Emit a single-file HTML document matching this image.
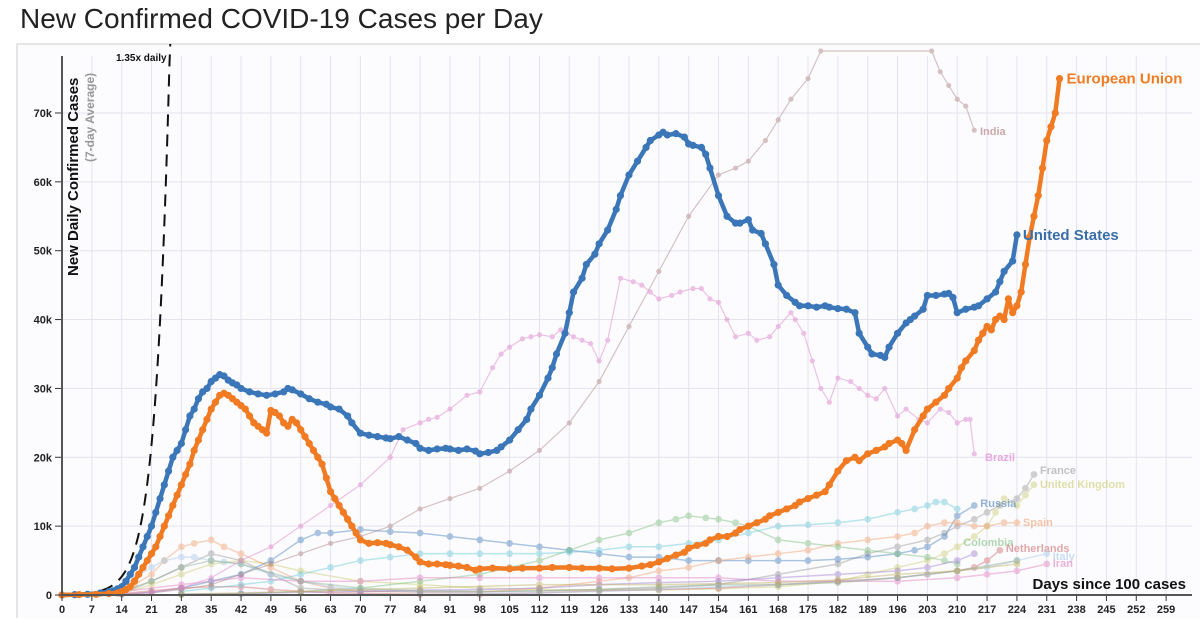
<!DOCTYPE html>
<html><head><meta charset="utf-8"><style>
body{margin:0;background:#fff;width:1200px;height:618px;overflow:hidden;font-family:"Liberation Sans",sans-serif}
svg text{font-family:"Liberation Sans",sans-serif}
</style></head><body>
<svg id="chart" width="1200" height="618">
<text x="20" y="28" font-size="28" fill="#222">New Confirmed COVID-19 Cases per Day</text>
<rect x="17" y="44" width="1190" height="580" fill="#fcfcfe" stroke="#ccc"/>
<g id="grid"></g><g id="faint"></g><g id="main"></g><g id="axes"></g>
</svg>
<script>
const xDays=[0,7,14,21,28,35,42,49,56,63,70,77,84,91,98,105,112,119,126,133,140,147,154,161,168,175,182,189,196,203,210,217,224,231,238,245,252,259];
const yTicks=[0,10,20,30,40,50,60,70];
const usDays=[0,3,6,9,11,12,13,14,15,16,
17,18,19,20,21,22,23,24,25,26,
27,28,29,30,31,32,33,34,35,36,
37,38,39,40,41,42,44,46,48,50,
52,53,54,56,58,60,62,63,65,67,
68,70,72,74,76,77,79,81,83,84,
86,88,90,91,93,95,97,98,100,102,
103,105,107,109,110,112,114,115,116,118,
119,120,122,123,125,126,128,130,131,133,
135,137,138,140,141,142,
144,146,147,148,150,151,152,154,156,158,
159,161,162,164,165,167,168,170,172,173,
175,177,179,180,182,184,186,187,189,190,
192,193,194,196,198,199,200,202,203,205,
207,208,209,210,212,214,215,217,219,220,
221,223,224];
const usVals=[0,0.05,0.1,0.3,0.5,0.6,0.9,1.2,2,3,
4,5.5,7,8.5,10,12,14,16,18,20,
21,22,24,26,27,28.5,29.5,30,31,31.5,
32,31.8,31.2,30.8,30.5,30,29.5,29.2,29,29.2,
29.5,30,29.8,29.2,28.5,28,27.7,27.3,27,26,
25,23.5,23.2,23,22.8,22.7,23,22.5,22,21.3,
21,21.2,21.3,21.2,21,21.2,20.9,20.5,20.7,21,
21.5,22.5,24,25.5,27,29,31.5,33,35,38,
41,44,46,48,49.5,51,53,56,58,61,
63,65,66,66.8,67.2,66.8,
67,66.5,65.5,65.3,65,64,62,58,55,54,
54,54.5,53,52.5,51,48,45,43.5,42.5,42,
42,41.8,42,41.8,41.6,41.5,41,38,36,35,
34.8,34.5,36,38,39.5,40,40.5,41.5,43.5,43.5,
43.7,43.8,43.2,41,41.5,41.8,42,43,44,45.5,
47,48.5,52.3];
const euDays=[0,4,8,11,13,14,15,16,17,18,
19,20,21,22,23,24,25,26,27,28,
29,30,31,32,33,34,35,36,37,38,
39,40,41,42,43,44,45,46,47,48,
49,50,51,52,53,54,55,56,57,58,
59,60,61,62,63,64,65,66,67,68,
69,70,72,74,76,77,79,81,83,84,
86,88,90,91,93,95,97,98,101,105,
108,112,115,119,122,126,129,133,136,138,
140,142,144,146,147,149,151,152,154,156,
158,159,161,163,165,166,168,170,172,173,
175,177,179,180,182,184,186,187,189,191,
193,194,196,197,198,200,202,203,205,207,
208,210,211,212,214,215,216,217,218,219,
220,221,222,223,224,225,226,227,228,229,
230,231,232,233,234];
const euVals=[0,0.05,0.1,0.2,0.3,0.5,0.8,1.2,2,3,
4,5,6,7,8.5,10,11.5,13,14.5,16,
17.5,19,21,22.5,24,25.5,27,28,29,29.3,
29,28.5,28,27.5,27,26,25,24.5,24,23.5,
26.8,26.5,26,25,24.5,25.5,25,24,23,22,
21,20,19,17,15,14,13,12,11,10,
9,8,7.5,7.6,7.5,7.3,7,6.5,5.5,4.8,
4.5,4.5,4.4,4.3,4.2,4,3.6,3.8,3.9,3.8,
3.9,3.9,4,4,3.9,3.9,3.8,3.9,4.2,4.4,
4.8,5.3,5.8,6.2,6.8,7.2,7.5,8,8.5,8.5,
9,9.5,10,10.5,11,11.5,12,12.5,13,13.5,
14,14.5,15,16,18,19.5,20,19.5,20.5,21,
21.5,22,22.5,22,21,24,26,27,28,29,
30,31.5,33,34,35.5,37,38,39,38.5,40,
40.5,40,43,41,42,44,48,52,55,58,
62,66,68,70,75];
const indiaDays=[14,21,28,35,42,49,56,63,70,77,84,91,98,105,112,119,126,133,140,147,154,158,161,165,168,171,175,178,204,206,208,210,212,214];
const indiaVals=[0.1,0.3,0.8,1.5,3,4.5,6,7.5,8.5,10,12.5,14,15.5,18,21,25,31,39,47,55,61,62,63,66,69,72,75,79,79,76,74,72,71,67.5];
const brazilDays=[14,21,28,35,42,49,56,63,70,77,80,84,86,88,91,95,98,101,103,105,108,110,112,115,117,120,122,124,126,128,131,134,136,138,140,143,145,148,150,152,154,156,158,161,163,166,168,171,172,174,176,178,180,182,185,187,189,191,193,196,198,201,203,206,208,210,212,213,214];
const brazilVals=[0.1,0.4,1,2.5,5,7,10,13,16,20,24,25,25.5,25.8,27,29,29.5,33,35,36,37.2,37.5,37.8,37.5,38.5,37.5,37,36.5,34,37,46,45.5,45,44,43,43.5,44,44.5,44.5,43,42.5,40,37.5,38,37,37.5,39,41,40,38,34,30,28,31.5,31,30,29,28.5,30,26,27,25.5,25,27,26.5,25,25.5,25.5,20.5];
const faintSeries=[
 {name:"France",color:"#9a9a9a",days:[14,21,28,35,42,49,56,70,84,98,112,126,140,154,168,182,189,196,203,207,210,214,217,220,224,226,228],vals:[0.2,2,4,6,5,3,1,0.5,0.5,0.5,0.6,0.8,1,1.5,3,4.5,6,7,8,9,10,11,12,13,14,15.5,17.5],label:"France",ly:474},
 {name:"United Kingdom",color:"#cbcc70",days:[14,21,28,35,42,49,56,70,84,98,112,126,140,154,168,182,189,196,203,207,210,214,217,219,221,224,226,228],vals:[0.2,1.5,3,4.5,5,4.5,3.5,2,1.5,1,0.8,0.7,0.7,0.9,1.2,2,3,4,5,6,7,8.5,10,12,14,13,14.5,16],label:"United Kingdom",ly:488},
 {name:"Russia",color:"#4a82bd",days:[14,21,28,35,42,49,56,60,63,70,77,84,91,98,105,112,119,126,133,140,147,154,161,168,175,182,189,196,200,203,207,210,214],vals:[0.1,0.4,1,2,3,5,8,9,9,9.5,9.2,9,8.5,8,7.5,7,6.5,6,5.5,5.5,5,5,5,5,5,5.2,5.5,6,6.5,7,8.5,11.5,13],label:"Russia",ly:507},
 {name:"Spain",color:"#f0a070",days:[14,17,21,24,28,31,35,38,42,49,56,63,70,84,98,112,126,133,140,147,154,161,168,175,182,189,196,200,203,207,210,214,217,221,224],vals:[0.5,1.5,3,5,7,7.5,8,7,6,4,2,1,0.6,0.4,0.4,1,2,2.5,3.5,4,5,5.5,6,6.5,7.5,8,8.5,9,10,10.5,10.5,10,10,10.5,10.5],label:"Spain",ly:526},
 {name:"Colombia",color:"#7fbf7f",days:[28,42,56,70,84,98,105,112,119,126,133,140,144,147,151,154,158,161,168,175,182,189,196,203,207,210],vals:[0.1,0.2,0.5,1,2,3,4,5,6.5,8,9,10.5,11,11.5,11.2,11,10.5,10,8,7.5,7,6.5,6,5.5,5,4.5],label:"Colombia",ly:546},
 {name:"Netherlands",color:"#d07070",days:[14,21,28,35,42,49,63,84,98,112,126,140,154,168,182,196,203,210,214,217,220],vals:[0.2,0.6,1,1.2,1.2,0.8,0.3,0.1,0.1,0.3,0.6,0.8,1,1.5,2,2.5,3,3.5,4,5,6.5],label:"Netherlands",ly:552},
 {name:"Italy",color:"#a8c8e8",days:[14,17,21,24,28,31,35,38,42,49,56,63,70,84,98,112,126,140,154,168,182,196,203,210,217,224,231],vals:[1,2.5,4,5,5.5,5.5,5,4.8,4.5,3,2,1.2,0.8,0.4,0.3,0.3,0.5,0.8,1.2,1.5,2,2.5,3,3.5,4,5,6],label:"Italy",ly:560},
 {name:"Cyan",color:"#6cc8d8",days:[28,35,42,49,56,63,70,77,84,91,98,105,112,119,126,133,140,147,154,161,168,175,182,189,196,200,203,205,207,210],vals:[0.5,1,1.5,2,3,4,5,5.5,6,6,6,6,6,6.2,6.5,7,7,7.5,8,9,10,10.2,10.5,11,12,12.5,13,13.5,13.5,12.5],label:"",ly:0},
 {name:"Iran",color:"#e080c0",days:[14,28,42,56,70,84,98,112,126,140,154,168,182,196,210,217,224,231],vals:[0.5,1.5,2.5,2,2,2.5,2.5,2.5,2.5,2.5,2.5,2,2,2,2.5,3,3.5,4.5],label:"Iran",ly:567},
 {name:"Purple",color:"#a080d0",days:[28,42,56,70,84,98,112,126,140,154,168,182,196,203,210,214],vals:[0.1,0.2,0.4,0.5,0.7,0.8,1,1.5,1.8,2,2.5,3,3.5,4,5,6],label:"",ly:0},
 {name:"Germany",color:"#90b090",days:[14,21,28,35,42,56,70,84,98,112,126,140,154,168,182,196,210,224],vals:[0.5,2,4,5,4.5,2,1,0.6,0.5,0.6,0.8,1.2,1.5,1.5,1.8,2.5,3.5,5],label:"",ly:0},
 {name:"Olive",color:"#c0b060",days:[28,56,84,112,140,168,182,196,210,224],vals:[0.1,0.5,1,1.5,1.5,1.8,2.2,3,3.5,4.5],label:"",ly:0}
];
const px=d=>62+d*4.263, py=v=>595-v*6.886;
const NS="http://www.w3.org/2000/svg";
function mk(t,a,parent){const e=document.createElementNS(NS,t);for(const k in a)e.setAttribute(k,a[k]);parent.appendChild(e);return e;}
const grid=document.getElementById('grid'),axes=document.getElementById('axes'),faint=document.getElementById('faint'),main=document.getElementById('main');
xDays.forEach(d=>{const l=mk('line',{x1:px(d),x2:px(d),y1:56,y2:595,stroke:'#e6e2ee'},grid);


const t=mk('line',{x1:px(d),x2:px(d),y1:595,y2:601,stroke:'#333'},axes);


const tx=mk('text',{x:px(d),y:613,'font-size':11,'font-weight':'bold','text-anchor':'middle',fill:'#222'},axes);tx.textContent=d;

});
yTicks.forEach(v=>{const l=mk('line',{x1:62,x2:1192,y1:py(v*1),y2:py(v*1),stroke:'#e6e2ee'},grid);


mk('line',{x1:55,x2:62,y1:py(v),y2:py(v),stroke:'#333'},axes);
const tx=mk('text',{x:52,y:py(v)+4,'font-size':11,'font-weight':'bold','text-anchor':'end',fill:'#222'},axes);tx.textContent=v?v+'k':'0';

});
let a=mk('line',{x1:62,x2:62,y1:56,y2:595,stroke:'#555','stroke-width':2},axes);


a=mk('line',{x1:62,x2:1192,y1:595,y2:595,stroke:'#555','stroke-width':2},axes);


let yt=mk('text',{transform:'translate(78,276) rotate(-90)','font-size':15,'font-weight':'bold',fill:'#111'},axes);yt.textContent='New Daily Confirmed Cases';


yt=mk('text',{transform:'translate(94,162) rotate(-90)','font-size':12,'font-weight':'bold',fill:'#999'},axes);yt.textContent='(7-day Average)';


let xt=mk('text',{x:1186,y:589,'font-size':15,'font-weight':'bold','text-anchor':'end',fill:'#111'},axes);xt.textContent='Days since 100 cases';


let pts=[];for(let d=0;d<=25.4;d+=0.2){const v=0.04*Math.pow(1.35,d);pts.push(px(d)+','+Math.max(py(v),44));}
let ref=mk('polyline',{points:pts.join(' '),fill:'none',stroke:'#111','stroke-width':2,'stroke-dasharray':'12,8'},main);


let rl=mk('text',{x:116,y:61,'font-size':10,'font-weight':'bold',fill:'#111'},main);rl.textContent='1.35x daily';


function series(parent,name,days,vals,color,w,r,op){
 const g=mk('g',{opacity:op},parent);
 
 
 const n=Math.min(days.length,vals.length);
 const p=[];for(let i=0;i<n;i++)p.push(px(days[i])+','+py(vals[i]));
 mk('polyline',{points:p.join(' '),fill:'none',stroke:color,'stroke-width':w,'stroke-linejoin':'round','clip-path':'url(#clip)'},g);
 for(let i=0;i<n;i++){if(py(vals[i])<50)continue;const c=mk('circle',{cx:px(days[i]),cy:py(vals[i]),r:r,fill:color},g);
 
 }
 return g;}
const defs=mk('defs',{},document.getElementById('chart'));const cp=mk('clipPath',{id:'clip'},defs);mk('rect',{x:62,y:44,width:1140,height:560},cp);
faintSeries.forEach(s=>{series(faint,s.name.toLowerCase().replace(/ /g,'-'),s.days,s.vals,s.color,1.5,3.4,0.45);
 if(s.label){const t=mk('text',{x:px(s.days[s.days.length-1])+6,y:s.ly,'font-size':11,'font-weight':'bold',fill:s.color,opacity:0.6},faint);t.textContent=s.label;
 
 }});
series(faint,'india',indiaDays,indiaVals,'#b08888',1.2,2.6,0.5);
series(faint,'brazil',brazilDays,brazilVals,'#e090d0',1.2,2.6,0.55);
let t=mk('text',{x:980,y:135,'font-size':11,'font-weight':'bold',fill:'#c8a8a8'},faint);t.textContent='India';


t=mk('text',{x:985,y:461,'font-size':11,'font-weight':'bold',fill:'#e8a8e0'},faint);t.textContent='Brazil';


series(main,'united-states',usDays,usVals,'#3a76b8',4.5,3.6,1);
series(main,'european-union',euDays,euVals,'#f07b22',4.5,3.6,1);
t=mk('text',{x:px(usDays[usDays.length-1])+6,y:py(usVals[usVals.length-1])+5,'font-size':15,'font-weight':'bold',fill:'#3a6ea8'},main);t.textContent='United States';


t=mk('text',{x:px(euDays[euDays.length-1])+7,y:py(euVals[euVals.length-1])+5,'font-size':15,'font-weight':'bold',fill:'#f07b22'},main);t.textContent='European Union';


</script>
</body></html>
